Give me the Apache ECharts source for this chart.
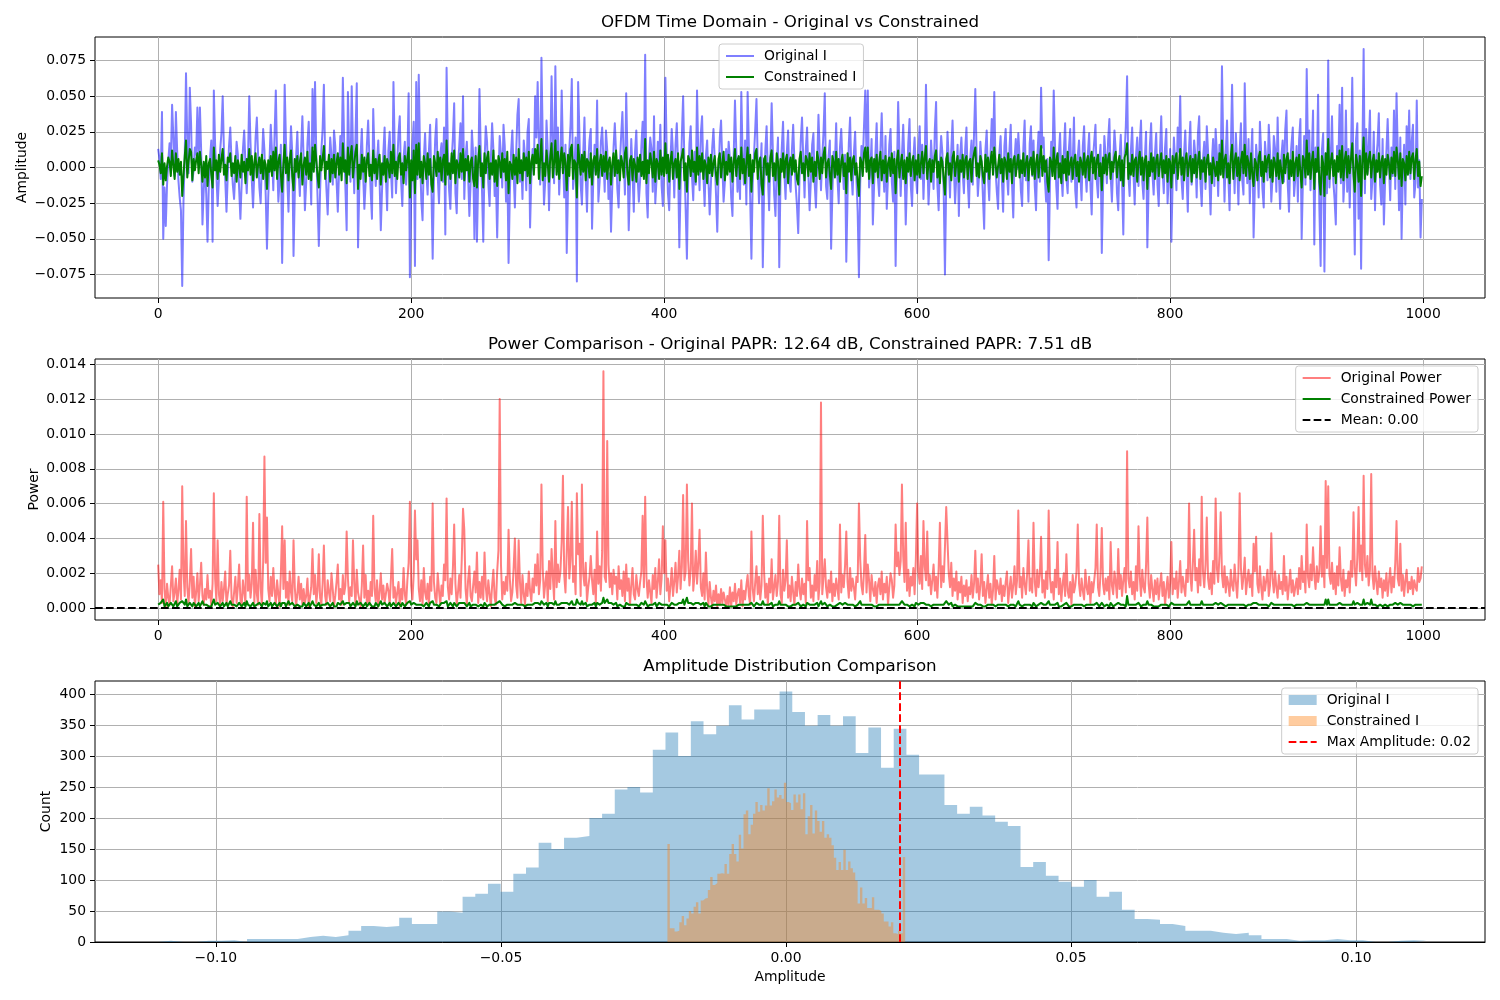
<!DOCTYPE html>
<html>
<head>
<meta charset="utf-8">
<title>OFDM PAPR reduction</title>
<script src="https://cdn.jsdelivr.net/npm/echarts@6/dist/echarts.min.js"></script>
<style>
  html, body { margin: 0; padding: 0; background: #fff; }
  #chart { width: 1500px; height: 1000px; }
</style>
</head>
<body>
<div id="chart"></div>
<script>
// tick labels
const timeTicks = [0, 200, 400, 600, 800, 1000]
const ampTicks = [-0.075, -0.05, -0.025, 0, 0.025, 0.05, 0.075]
const powerTicks = [0, 0.002, 0.004, 0.006, 0.008, 0.010, 0.012, 0.014]
const histTicks = [-0.1, -0.05, 0, 0.05, 0.1]
const countTicks = [0, 50, 100, 150, 200, 250, 300, 350, 400]

// time domain, I branch (1000 samples)
const originalI = [
  .013,.006,-.008,.039,-.050,-.014,-.041,-.012,.005,.017,.004,.044,.021,-.006,.039,.012,-.009,-.021,-.030,-.083,-.024,.008,.066,.018,-.004,.056,.031,-.010,-.002,.014,.009,.042,.003,.042,.011,-.040,-.016,.002,-.019,-.052,-.013,.007,.019,-.052,.054,.016,-.005,-.027,-.008,.012,
  .024,.050,.011,-.008,-.031,-.006,.015,.028,.004,-.012,-.022,-.003,.018,.009,-.015,-.036,-.011,.013,.026,.002,-.018,.006,.050,.017,-.009,-.028,-.004,.021,.035,.008,-.014,-.025,.003,.027,.012,-.019,-.057,-.021,.005,.030,.011,-.016,.022,.054,.007,-.024,-.009,.016,-.067,-.013,
  .058,.019,-.006,-.031,.004,.029,.010,-.062,-.018,.007,.025,-.002,-.020,.013,.036,.005,-.030,-.011,.017,.032,.003,-.026,.055,.014,.060,.009,-.021,-.055,-.017,.012,.027,.058,.006,-.015,-.033,-.004,.021,.008,-.012,.026,.015,-.009,-.031,-.002,.022,.004,.063,.018,-.014,-.044,
  .053,.011,-.010,.057,.013,-.018,.022,.059,-.056,-.014,.008,.027,-.004,-.029,-.011,.016,.033,.006,-.017,-.036,.041,.009,-.013,.004,.019,-.008,-.044,-.015,.010,.028,-.005,-.030,.012,.025,-.002,-.021,.060,.014,-.018,.003,.024,.036,-.009,-.027,.007,.018,-.012,.006,.052,-.077,
  -.020,.015,.032,-.069,.060,-.008,.065,.012,-.023,-.037,.006,.024,-.003,-.019,.011,.030,-.014,-.064,-.009,.020,.034,-.006,-.025,.009,.017,-.010,.028,-.047,.070,.013,-.016,-.029,.005,.021,.045,-.018,-.032,.002,.015,.031,-.008,.050,-.022,.007,.018,-.005,-.034,-.011,.026,.009,
  -.050,.014,-.052,-.007,.055,.012,-.016,-.052,.004,.029,.018,-.011,-.027,.006,.031,.013,-.020,-.008,-.049,-.006,.022,.009,-.014,.030,.015,-.024,.003,-.067,-.019,.011,.026,-.004,-.028,.010,.037,.048,-.010,.004,-.022,.019,.008,-.016,.025,.034,-.042,-.007,.013,-.002,.050,.021,
  .060,.017,-.012,.077,.020,-.026,-.009,.033,.011,-.030,.008,.064,.015,-.011,.071,.006,.028,-.019,.002,.054,.010,-.021,.016,-.060,-.014,.012,.030,.062,-.015,-.004,.021,-.080,.060,.059,-.012,-.026,.009,.035,-.006,-.031,.004,.019,.027,-.043,-.008,.016,-.003,.047,-.024,-.010,
  .018,.028,.006,-.017,.026,.012,-.022,-.004,-.045,-.013,.014,.031,.010,-.015,-.028,.003,.022,.039,.007,-.019,.052,.008,-.044,-.012,.020,-.003,-.031,.011,.026,-.006,-.024,-.009,.015,.032,-.001,.079,-.018,-.035,.006,.021,.013,-.017,.036,-.025,-.008,.018,.004,.030,-.013,-.027,
  .008,.063,.012,-.018,-.030,.005,.027,.010,-.021,.016,.031,.002,-.056,-.014,.022,.050,.004,-.029,-.064,-.010,.017,.029,-.006,-.023,.011,-.012,.054,.009,-.016,.024,.036,-.004,-.027,.008,.019,-.009,-.033,-.011,.014,.027,.005,-.019,-.045,-.006,.021,.033,.002,-.024,-.010,.013,
  -.003,.018,.006,-.021,-.034,.009,.047,.013,-.017,.004,-.022,.053,.010,-.012,.019,-.026,.053,.015,-.020,-.064,-.011,.008,.027,.048,.003,-.025,-.006,.017,-.070,-.016,.012,.029,-.005,-.030,.007,.045,.010,-.019,-.034,.002,.021,-.070,-.008,.014,.032,-.003,-.022,.011,.026,-.009,
  -.017,.012,.030,.004,-.013,-.027,-.046,-.008,.019,.035,.006,-.021,.013,.028,-.004,-.030,-.009,.016,.024,-.011,-.028,.003,.037,.010,-.016,.007,.025,.052,-.013,-.022,.008,.019,-.057,-.018,.011,.002,.031,-.007,-.025,.014,.027,.004,-.015,.009,-.066,-.020,.017,.035,-.003,-.019,
  .010,.025,-.008,-.031,-.077,-.011,.015,.002,.029,.054,.006,.054,-.014,-.003,.020,-.040,-.012,.009,.031,-.007,-.020,.013,.038,.004,-.017,.022,-.029,-.006,.016,.027,-.010,-.024,.011,-.069,-.005,.046,.012,-.020,.008,.030,.002,-.040,-.009,.017,.034,-.013,-.027,.006,.021,-.004,
  -.018,.011,.029,-.008,.016,-.022,.005,.058,.009,-.026,-.007,.019,.003,-.015,.027,.046,-.012,-.030,.004,.022,.010,-.017,-.075,-.010,.025,.006,-.021,.012,.033,.001,-.025,-.006,.016,-.034,.008,.021,-.003,-.018,.013,.028,-.009,-.028,.007,.019,-.012,.024,.055,.011,-.020,-.005,
  .018,.004,-.020,-.043,.012,.026,-.006,-.023,.009,.034,.011,.053,-.002,-.017,-.029,.010,.022,-.008,-.031,.015,.027,-.004,-.019,.013,.030,-.011,-.035,.006,.020,-.001,.024,.008,-.016,-.027,.014,.033,-.009,.004,-.024,.017,.029,-.006,.019,-.013,-.030,.007,.025,-.010,.056,.014,
  .021,-.008,-.024,.006,-.065,-.012,.018,.003,.054,.016,-.013,-.029,.009,.024,-.004,-.020,.011,.031,-.007,-.018,.013,.027,-.010,.002,.035,-.016,-.028,.008,.019,-.005,-.023,.015,.029,-.002,-.017,.010,.024,-.012,-.033,.006,.018,.030,-.009,-.021,.004,.016,-.060,-.014,.022,.008,
  -.011,.019,.034,-.006,-.024,.003,.026,.012,-.018,-.030,.007,.023,-.009,-.047,.010,.029,.064,-.005,-.020,.012,.028,-.003,-.026,.008,.021,-.013,.017,.033,-.010,-.022,.006,.025,-.056,-.014,.015,.031,-.004,-.019,.009,.024,-.012,-.027,.011,.036,-.001,-.018,.014,.027,-.025,-.006,
  .013,-.052,-.010,.021,.004,-.016,.028,.011,.050,-.008,-.022,.009,.026,-.005,-.031,.014,.032,-.012,-.002,.019,.008,-.021,.024,.036,-.011,-.027,.006,.018,-.015,.029,.011,-.007,-.033,.004,.020,-.013,.027,.009,-.020,.016,-.004,.071,.015,-.024,.010,.033,-.006,-.030,.012,.058,
  .009,-.018,.024,.003,-.026,.012,.031,-.008,-.019,.059,.014,-.011,.020,-.025,.007,.027,-.049,-.013,.016,.004,-.021,.032,.010,-.015,-.028,.018,.006,-.009,.030,.011,-.024,-.006,.022,.013,-.017,.035,-.004,-.029,.008,.019,-.010,.026,.040,-.012,-.031,.005,.017,.028,-.020,-.007,
  .015,-.024,.020,.034,-.050,-.009,.022,-.012,.069,.010,.026,-.016,.008,.040,-.054,.014,-.003,.051,-.028,-.069,.012,.024,-.073,.010,-.018,.075,-.014,.006,.036,-.009,-.022,-.040,.015,.003,.044,-.011,.056,-.024,-.005,.040,-.017,.013,-.028,.009,.063,-.006,-.061,.020,.031,-.036,
  .012,-.071,.008,.083,-.018,.027,-.004,.015,.040,-.022,-.008,.025,-.030,.006,.017,.038,-.012,-.026,.020,-.040,-.009,.011,.034,.003,-.023,.014,-.006,.040,-.015,.052,.010,-.030,.021,-.050,-.004,.016,-.026,.029,.003,.040,-.008,.018,.030,-.021,-.011,.047,-.014,.005,-.049,-.022
]
const constrainedI = [
  .005,.002,-.004,.010,-.012,.003,-.009,.001,.007,.004,-.006,.012,.002,-.008,.010,-.003,.006,-.005,.004,-.020,-.006,.008,.019,-.007,.004,.013,.011,-.009,.006,-.002,.005,.010,-.004,.011,.002,-.010,.004,-.007,.008,-.013,.003,.006,-.005,-.014,.014,-.002,.005,-.008,.009,-.003,
  .006,.013,-.005,.002,-.009,.007,.004,.010,-.006,.003,-.004,.008,-.010,.005,.001,-.007,.009,-.003,.004,-.011,.006,-.002,.013,-.005,.008,-.009,.003,.010,-.007,.002,.007,-.004,.009,-.008,.005,.002,-.015,.005,-.003,.008,-.006,.011,-.002,.014,-.008,.004,.009,-.005,-.017,.003,
  .016,-.004,.007,-.009,.005,.012,-.006,-.016,.006,-.003,.008,-.007,.004,.010,-.012,.002,.007,-.005,.011,-.008,.003,-.009,.014,-.003,.016,.005,-.006,-.014,.008,-.002,.006,.015,-.008,.004,-.001,.009,-.010,.006,-.004,.009,-.007,.003,.010,-.005,.007,-.009,.017,-.003,.005,-.011,
  .014,-.005,.008,.015,-.007,.003,.011,.016,-.015,.002,-.008,.009,-.003,.007,-.010,.005,.010,-.006,.002,-.009,.012,-.004,.006,-.008,.004,.009,-.012,.003,-.005,.008,-.010,.006,.002,-.007,.011,-.004,.016,-.006,.004,-.008,.007,.010,-.005,.003,-.011,.008,-.002,.006,.014,-.021,
  .005,-.009,.012,-.018,.016,-.005,.017,-.007,.004,-.011,.008,.003,-.008,.010,-.005,.006,-.012,-.017,.008,.003,-.006,.011,-.003,.007,-.009,.005,.009,-.012,.019,-.005,.003,-.008,.010,-.004,.012,-.011,.005,.002,-.007,.010,-.003,.013,-.009,.006,-.002,.008,-.010,.004,.007,-.008,
  -.013,.008,-.014,.005,.015,-.006,.003,-.014,.010,-.004,.007,.011,-.008,.003,-.005,.012,-.010,.005,-.013,.008,.004,-.007,.010,-.003,.006,-.009,.011,-.018,.004,.002,-.008,.009,-.005,.007,-.011,.013,-.004,.005,-.009,.010,-.002,.007,-.006,.011,-.011,.004,.009,-.005,.013,.003,
  .016,-.008,.006,.020,-.009,.003,-.006,.012,.002,-.010,.008,.017,-.007,.003,.019,-.005,.011,-.008,.006,.014,-.004,.010,.003,-.016,.009,-.006,.013,.016,-.008,.005,.003,-.021,.016,.016,-.005,.009,-.003,.011,-.009,.006,.004,-.007,.010,-.012,.005,.008,-.005,.013,-.007,.003,
  .009,-.006,.008,-.003,.011,-.008,.004,.007,-.012,.003,.010,-.006,.012,-.004,.005,-.009,.008,.003,-.007,.010,.014,-.005,-.012,.005,.008,-.009,.006,.002,-.010,.007,-.003,.009,-.006,.004,-.008,.020,-.011,.005,-.004,.010,.003,-.007,.011,-.010,.006,.003,-.008,.012,-.005,.007,
  -.006,.017,-.004,.009,-.010,.005,.011,-.008,.003,.006,-.007,.010,-.015,.004,.008,.013,-.009,.003,-.017,.008,.005,-.006,.012,-.003,.004,-.010,.014,-.005,.008,-.003,.010,-.008,.005,.002,-.011,.007,-.004,.009,-.006,.003,.008,-.005,-.012,.006,.010,-.007,.003,.011,-.009,.004,
  -.005,.009,-.003,.007,-.010,.004,.013,-.006,.005,.008,-.008,.014,-.004,.006,-.011,.003,.014,-.006,.009,-.017,.005,-.003,.010,.013,-.008,.004,.007,-.012,-.019,.006,.008,-.005,.003,-.010,.007,.012,-.006,.003,-.009,.010,.004,-.019,.006,-.003,.010,-.007,.005,.009,-.011,.003,
  .007,-.005,.009,-.003,.005,-.008,-.012,.006,.011,-.004,.003,-.009,.008,.005,-.006,.010,-.003,.007,-.010,.004,-.006,.011,.005,-.008,.007,-.004,.009,.014,-.007,.003,.006,-.005,-.015,.008,.004,-.007,.011,-.005,.006,-.010,.004,.009,-.006,.003,-.018,.010,-.003,.007,-.009,.005,
  .008,-.005,.003,-.010,-.020,.007,.004,-.006,.010,.014,-.003,.014,-.008,.005,.007,-.011,.006,-.003,.009,-.007,.004,.011,-.009,.005,-.004,.008,-.010,.003,.007,-.006,.010,-.004,.006,-.018,.005,.012,-.007,.003,.009,-.008,.005,-.011,.007,-.003,.010,-.006,.004,.008,-.009,.005,
  -.005,.009,-.007,.003,.011,-.004,.007,.015,-.008,.003,.006,-.010,.005,-.003,.008,.012,-.007,.004,-.011,.007,.004,-.008,-.019,.006,.010,-.005,.003,-.009,.007,.011,-.006,.003,.008,-.010,.005,-.003,.009,-.007,.005,.008,-.008,.004,.006,-.010,.005,.010,.014,-.006,.003,-.007,
  .008,.004,-.006,-.011,.009,-.003,.007,-.008,.005,.011,-.005,.014,.003,-.007,-.008,.009,-.004,.006,-.010,.007,.004,-.008,.010,-.003,.006,-.011,.005,.008,-.006,.003,.009,-.007,.005,-.004,.010,-.006,.003,.008,-.009,.004,.007,-.005,.011,-.008,.003,.009,-.007,.005,.015,-.006,
  .008,-.003,.005,-.010,-.017,.007,.004,-.006,.014,-.008,.005,.010,-.007,.003,-.011,.008,-.004,.006,-.009,.011,-.005,.003,.007,-.008,.005,.009,-.006,.004,-.010,.007,.003,-.005,.010,-.007,.004,.008,-.009,.006,.011,-.004,.007,-.008,.005,.009,-.006,.003,-.016,.007,-.004,.009,
  -.005,.006,.010,-.008,.004,-.003,.007,.011,-.007,.004,.008,-.009,.005,-.013,.007,.010,.017,-.008,.003,-.005,.009,-.006,.005,.007,-.010,.004,.011,-.005,.007,-.009,.005,.008,-.015,.004,-.006,.010,-.003,.007,-.008,.005,.009,-.006,.003,.010,-.007,.005,-.004,.008,-.010,.006,
  .004,-.014,.008,-.004,.006,.010,-.008,.003,.013,-.005,.007,-.009,.005,.010,-.006,.003,.008,-.010,.006,-.004,.009,-.007,.004,.011,-.008,.005,-.003,.007,-.010,.005,.009,-.005,.003,-.011,.007,.008,-.006,.004,-.009,.010,-.005,.019,-.007,.005,.009,-.007,.003,-.011,.008,.016,
  -.008,.004,.010,-.006,.007,-.009,.005,.011,-.004,.016,-.006,.008,.003,-.008,.010,-.005,-.013,.006,.003,-.009,.007,.011,-.006,.004,-.010,.008,-.003,.006,.009,-.007,.005,-.010,.007,.003,-.006,.010,-.008,.005,.004,-.011,.009,-.004,.006,.010,-.008,.005,-.006,.011,-.009,.003,
  .007,-.006,.009,-.003,-.014,.008,.005,-.007,.019,-.005,.010,-.008,.004,.011,-.015,.006,-.003,.014,-.010,-.019,.008,.003,-.020,.010,-.005,.020,-.008,.004,.010,-.006,.005,-.011,.008,-.003,.012,-.007,.015,-.009,.005,.011,-.007,.008,-.004,.006,.017,-.005,-.017,.009,.003,-.010,
  .008,-.020,.005,.021,-.008,.010,-.005,.006,.011,-.007,.004,.009,-.010,.005,-.003,.010,-.007,.004,.008,-.011,.006,-.005,.009,.003,-.008,.007,-.004,.011,-.006,.014,.005,-.008,.010,-.013,.006,.003,-.009,.008,-.005,.011,-.004,.007,.010,-.008,.005,.013,-.006,.004,-.013,-.006
]

// instantaneous power (1000 samples)
const originalPower = [
  .0025,.0008,.0016,.0003,.0061,.0011,.0001,.0014,.0006,.0002,.0013,.0024,.0004,.0009,.0017,.0002,.0010,.0022,.0005,.0070,.0021,.0007,.0050,.0012,.0003,.0015,.0034,.0006,.0018,.0001,.0009,.0020,.0004,.0013,.0026,.0007,.0002,.0011,.0005,.0019,.0006,.0010,.0001,.0014,.0066,.0017,.0004,.0039,.0008,.0002,
  .0015,.0004,.0011,.0021,.0002,.0008,.0013,.0033,.0006,.0001,.0009,.0018,.0003,.0012,.0025,.0005,.0001,.0016,.0009,.0003,.0064,.0010,.0019,.0006,.0014,.0049,.0003,.0022,.0008,.0002,.0054,.0012,.0001,.0027,.0087,.0026,.0052,.0011,.0004,.0018,.0007,.0023,.0010,.0002,.0016,.0008,.0001,.0020,.0047,.0011,
  .0039,.0006,.0015,.0002,.0021,.0009,.0004,.0039,.0012,.0001,.0008,.0018,.0005,.0014,.0002,.0011,.0003,.0007,.0017,.0001,.0006,.0012,.0034,.0008,.0019,.0003,.0010,.0031,.0006,.0002,.0014,.0036,.0007,.0002,.0016,.0009,.0004,.0020,.0011,.0001,.0007,.0015,.0025,.0005,.0011,.0002,.0019,.0008,.0013,.0044,
  .0017,.0004,.0012,.0007,.0039,.0014,.0002,.0022,.0009,.0005,.0001,.0013,.0036,.0006,.0019,.0003,.0010,.0002,.0015,.0007,.0053,.0011,.0004,.0016,.0001,.0009,.0020,.0005,.0013,.0003,.0008,.0014,.0010,.0002,.0017,.0034,.0006,.0012,.0003,.0009,.0015,.0001,.0011,.0005,.0023,.0008,.0002,.0016,.0026,.0061,
  .0013,.0005,.0019,.0056,.0028,.0039,.0011,.0004,.0016,.0002,.0023,.0009,.0005,.0014,.0001,.0018,.0010,.0060,.0015,.0006,.0003,.0020,.0010,.0002,.0013,.0007,.0025,.0016,.0063,.0012,.0005,.0017,.0008,.0023,.0048,.0014,.0002,.0009,.0019,.0006,.0028,.0057,.0045,.0011,.0002,.0016,.0024,.0007,.0004,.0013,
  .0021,.0009,.0032,.0003,.0015,.0006,.0018,.0005,.0032,.0012,.0004,.0016,.0008,.0001,.0013,.0022,.0006,.0002,.0021,.0033,.0120,.0025,.0005,.0015,.0008,.0018,.0010,.0045,.0017,.0004,.0009,.0023,.0040,.0013,.0006,.0039,.0015,.0003,.0019,.0008,.0002,.0014,.0007,.0021,.0010,.0004,.0017,.0009,.0025,.0013,
  .0031,.0008,.0016,.0071,.0023,.0006,.0014,.0021,.0004,.0027,.0011,.0034,.0018,.0005,.0050,.0012,.0025,.0015,.0021,.0038,.0076,.0019,.0009,.0033,.0058,.0017,.0028,.0061,.0015,.0024,.0008,.0066,.0031,.0037,.0007,.0071,.0020,.0013,.0026,.0004,.0012,.0018,.0030,.0016,.0008,.0022,.0003,.0044,.0014,.0024,
  .0010,.0033,.0136,.0018,.0015,.0096,.0025,.0012,.0020,.0008,.0022,.0014,.0018,.0005,.0024,.0011,.0016,.0007,.0021,.0004,.0025,.0010,.0017,.0002,.0013,.0023,.0008,.0005,.0019,.0011,.0007,.0015,.0021,.0053,.0012,.0064,.0018,.0006,.0016,.0009,.0003,.0019,.0011,.0023,.0006,.0015,.0028,.0008,.0017,.0047,
  .0020,.0039,.0010,.0017,.0004,.0013,.0023,.0007,.0015,.0026,.0009,.0018,.0033,.0011,.0024,.0065,.0016,.0021,.0071,.0027,.0013,.0022,.0060,.0010,.0019,.0033,.0014,.0026,.0045,.0012,.0007,.0020,.0005,.0032,.0011,.0002,.0015,.0006,.0001,.0010,.0004,.0013,.0001,.0008,.0002,.0011,.0003,.0009,.0005,.0001,
  .0007,.0002,.0012,.0001,.0009,.0004,.0014,.0002,.0008,.0011,.0003,.0016,.0001,.0010,.0005,.0013,.0019,.0007,.0002,.0044,.0011,.0004,.0015,.0024,.0008,.0018,.0005,.0013,.0053,.0021,.0006,.0014,.0002,.0017,.0009,.0028,.0005,.0012,.0019,.0007,.0015,.0053,.0008,.0003,.0022,.0010,.0016,.0039,.0006,.0013,
  .0004,.0018,.0009,.0002,.0015,.0007,.0025,.0011,.0005,.0017,.0008,.0014,.0003,.0050,.0016,.0023,.0006,.0013,.0004,.0019,.0010,.0027,.0005,.0015,.0118,.0008,.0018,.0028,.0012,.0006,.0016,.0009,.0021,.0004,.0014,.0007,.0017,.0011,.0005,.0048,.0009,.0019,.0012,.0024,.0044,.0015,.0006,.0023,.0010,.0017,
  .0012,.0005,.0018,.0015,.0060,.0028,.0013,.0008,.0021,.0042,.0009,.0025,.0016,.0004,.0019,.0011,.0007,.0015,.0003,.0013,.0017,.0008,.0021,.0005,.0014,.0009,.0018,.0002,.0012,.0020,.0016,.0006,.0013,.0048,.0024,.0032,.0019,.0027,.0071,.0030,.0015,.0049,.0010,.0022,.0007,.0018,.0013,.0023,.0008,.0028,
  .0060,.0021,.0014,.0030,.0011,.0050,.0024,.0016,.0044,.0013,.0019,.0008,.0016,.0025,.0010,.0018,.0006,.0022,.0049,.0012,.0024,.0015,.0035,.0058,.0058,.0020,.0012,.0026,.0007,.0017,.0010,.0021,.0005,.0015,.0009,.0018,.0003,.0013,.0007,.0016,.0004,.0012,.0008,.0019,.0006,.0014,.0033,.0009,.0017,.0005,
  .0013,.0031,.0007,.0015,.0003,.0011,.0019,.0006,.0014,.0002,.0010,.0030,.0005,.0016,.0012,.0008,.0017,.0004,.0013,.0007,.0015,.0021,.0003,.0011,.0018,.0006,.0013,.0024,.0008,.0016,.0056,.0012,.0018,.0006,.0023,.0014,.0008,.0020,.0039,.0010,.0017,.0009,.0049,.0015,.0007,.0022,.0012,.0019,.0041,.0009,
  .0016,.0006,.0021,.0011,.0056,.0018,.0009,.0015,.0005,.0022,.0012,.0038,.0008,.0017,.0004,.0014,.0020,.0007,.0031,.0010,.0006,.0015,.0002,.0019,.0009,.0013,.0021,.0048,.0014,.0007,.0017,.0010,.0005,.0022,.0012,.0008,.0018,.0003,.0015,.0009,.0016,.0023,.0048,.0012,.0007,.0020,.0046,.0014,.0008,.0017,
  .0010,.0018,.0005,.0038,.0013,.0008,.0021,.0015,.0006,.0034,.0011,.0019,.0007,.0016,.0023,.0009,.0090,.0017,.0012,.0021,.0008,.0015,.0005,.0024,.0010,.0047,.0018,.0007,.0022,.0012,.0009,.0025,.0052,.0014,.0006,.0019,.0011,.0004,.0016,.0008,.0017,.0005,.0013,.0020,.0007,.0015,.0002,.0011,.0018,.0006,
  .0014,.0038,.0008,.0017,.0011,.0021,.0006,.0015,.0027,.0009,.0018,.0012,.0007,.0022,.0015,.0060,.0019,.0010,.0026,.0045,.0016,.0023,.0009,.0028,.0013,.0064,.0021,.0012,.0025,.0052,.0017,.0011,.0020,.0008,.0027,.0014,.0063,.0023,.0015,.0030,.0055,.0019,.0012,.0024,.0009,.0018,.0014,.0007,.0022,.0013,
  .0010,.0025,.0015,.0006,.0020,.0066,.0023,.0011,.0018,.0029,.0008,.0016,.0022,.0012,.0019,.0007,.0037,.0021,.0041,.0014,.0009,.0024,.0012,.0005,.0018,.0010,.0016,.0022,.0007,.0013,.0043,.0017,.0009,.0021,.0012,.0006,.0019,.0011,.0015,.0008,.0030,.0010,.0018,.0005,.0013,.0022,.0009,.0016,.0007,.0012,
  .0017,.0008,.0023,.0011,.0030,.0015,.0021,.0009,.0048,.0018,.0012,.0025,.0016,.0035,.0019,.0011,.0024,.0015,.0021,.0047,.0018,.0030,.0012,.0073,.0023,.0070,.0019,.0014,.0026,.0011,.0020,.0008,.0024,.0013,.0035,.0017,.0010,.0022,.0007,.0016,.0012,.0021,.0009,.0027,.0018,.0055,.0023,.0013,.0029,.0058,
  .0021,.0036,.0016,.0076,.0025,.0018,.0030,.0013,.0022,.0077,.0019,.0011,.0024,.0015,.0008,.0021,.0012,.0017,.0006,.0016,.0010,.0020,.0007,.0015,.0023,.0009,.0018,.0012,.0026,.0050,.0017,.0013,.0037,.0010,.0019,.0007,.0016,.0022,.0009,.0015,.0011,.0018,.0008,.0016,.0012,.0010,.0023,.0015,.0017,.0024
]
const constrainedPower = [
  .0002,.0001,.0003,.0002,.0005,.0001,.0002,.0003,.0001,.0002,.0003,.0002,.0001,.0002,.0004,.0001,.0002,.0003,.0002,.0004,.0003,.0002,.0005,.0001,.0002,.0003,.0002,.0001,.0003,.0002,.0001,.0002,.0003,.0001,.0002,.0004,.0002,.0001,.0002,.0003,.0001,.0002,.0001,.0003,.0005,.0002,.0001,.0003,.0002,.0001,
  .0002,.0003,.0001,.0002,.0003,.0001,.0002,.0004,.0002,.0001,.0002,.0003,.0001,.0002,.0003,.0002,.0001,.0002,.0003,.0001,.0004,.0002,.0003,.0001,.0002,.0003,.0001,.0002,.0002,.0001,.0003,.0002,.0001,.0003,.0004,.0002,.0004,.0001,.0002,.0003,.0001,.0002,.0003,.0002,.0001,.0002,.0003,.0001,.0003,.0002,
  .0003,.0001,.0002,.0004,.0002,.0001,.0003,.0002,.0001,.0002,.0002,.0003,.0001,.0002,.0001,.0003,.0002,.0001,.0002,.0003,.0001,.0002,.0004,.0002,.0003,.0001,.0002,.0003,.0001,.0002,.0002,.0003,.0002,.0001,.0003,.0002,.0001,.0002,.0003,.0001,.0002,.0001,.0003,.0002,.0002,.0001,.0004,.0002,.0001,.0003,
  .0002,.0003,.0001,.0002,.0003,.0002,.0001,.0004,.0002,.0001,.0003,.0002,.0001,.0002,.0003,.0001,.0002,.0003,.0002,.0001,.0002,.0001,.0003,.0002,.0001,.0002,.0004,.0002,.0001,.0003,.0002,.0001,.0002,.0003,.0001,.0002,.0003,.0002,.0001,.0002,.0003,.0002,.0001,.0003,.0002,.0001,.0002,.0003,.0002,.0004,
  .0002,.0001,.0003,.0004,.0002,.0003,.0002,.0001,.0002,.0003,.0001,.0002,.0003,.0002,.0001,.0003,.0002,.0004,.0002,.0001,.0002,.0003,.0001,.0002,.0003,.0002,.0003,.0002,.0004,.0001,.0002,.0003,.0002,.0001,.0003,.0002,.0001,.0002,.0003,.0002,.0003,.0004,.0003,.0002,.0001,.0002,.0003,.0001,.0002,.0002,
  .0003,.0002,.0003,.0001,.0002,.0002,.0003,.0001,.0003,.0002,.0001,.0002,.0002,.0001,.0002,.0003,.0002,.0001,.0003,.0003,.0004,.0003,.0002,.0002,.0001,.0002,.0002,.0003,.0002,.0001,.0002,.0003,.0003,.0002,.0002,.0003,.0002,.0001,.0002,.0002,.0001,.0002,.0002,.0003,.0002,.0001,.0002,.0002,.0003,.0002,
  .0003,.0002,.0002,.0004,.0003,.0002,.0002,.0003,.0001,.0003,.0002,.0003,.0002,.0002,.0004,.0002,.0003,.0002,.0002,.0003,.0004,.0003,.0002,.0003,.0004,.0002,.0003,.0004,.0002,.0003,.0002,.0005,.0003,.0003,.0002,.0004,.0002,.0002,.0003,.0001,.0002,.0002,.0003,.0002,.0002,.0003,.0001,.0003,.0002,.0002,
  .0002,.0003,.0006,.0003,.0002,.0005,.0003,.0002,.0003,.0002,.0002,.0002,.0003,.0001,.0002,.0002,.0002,.0001,.0002,.0001,.0003,.0002,.0002,.0001,.0002,.0003,.0002,.0001,.0002,.0002,.0001,.0002,.0003,.0004,.0002,.0004,.0003,.0001,.0002,.0002,.0001,.0002,.0002,.0003,.0001,.0002,.0003,.0002,.0002,.0003,
  .0002,.0003,.0002,.0002,.0001,.0002,.0003,.0002,.0002,.0003,.0002,.0002,.0003,.0002,.0003,.0005,.0002,.0003,.0006,.0003,.0002,.0003,.0004,.0002,.0002,.0003,.0002,.0003,.0004,.0002,.0002,.0003,.0001,.0003,.0002,.0001,.0002,.0001,.0001,.0002,.0001,.0002,.0001,.0002,.0001,.0002,.0001,.0002,.0001,.0001,
  .0002,.0001,.0002,.0001,.0002,.0001,.0002,.0001,.0002,.0002,.0001,.0002,.0001,.0002,.0001,.0002,.0003,.0002,.0001,.0003,.0002,.0001,.0002,.0003,.0002,.0002,.0001,.0002,.0004,.0002,.0001,.0002,.0001,.0002,.0002,.0003,.0001,.0002,.0002,.0001,.0002,.0004,.0002,.0001,.0002,.0002,.0002,.0003,.0001,.0002,
  .0001,.0002,.0002,.0001,.0002,.0002,.0003,.0002,.0001,.0002,.0002,.0002,.0001,.0003,.0002,.0002,.0001,.0002,.0001,.0002,.0002,.0003,.0001,.0002,.0004,.0002,.0002,.0003,.0002,.0001,.0002,.0002,.0002,.0001,.0002,.0001,.0002,.0002,.0001,.0003,.0002,.0002,.0002,.0003,.0003,.0002,.0001,.0002,.0002,.0002,
  .0002,.0001,.0002,.0002,.0003,.0004,.0002,.0001,.0002,.0003,.0002,.0003,.0002,.0001,.0002,.0002,.0001,.0002,.0001,.0002,.0002,.0001,.0002,.0001,.0002,.0002,.0002,.0001,.0002,.0002,.0002,.0001,.0002,.0003,.0002,.0003,.0002,.0003,.0004,.0003,.0002,.0003,.0002,.0002,.0001,.0002,.0002,.0002,.0001,.0003,
  .0004,.0002,.0002,.0003,.0002,.0003,.0002,.0002,.0003,.0002,.0002,.0001,.0002,.0002,.0002,.0002,.0001,.0002,.0003,.0002,.0002,.0002,.0003,.0004,.0004,.0002,.0002,.0003,.0001,.0002,.0002,.0002,.0001,.0002,.0001,.0002,.0001,.0002,.0001,.0002,.0001,.0002,.0001,.0002,.0001,.0002,.0003,.0002,.0002,.0001,
  .0002,.0003,.0001,.0002,.0001,.0002,.0002,.0001,.0002,.0001,.0002,.0003,.0001,.0002,.0002,.0001,.0002,.0001,.0002,.0001,.0002,.0002,.0001,.0002,.0002,.0001,.0002,.0002,.0001,.0002,.0004,.0002,.0002,.0001,.0002,.0002,.0001,.0002,.0003,.0002,.0002,.0001,.0003,.0002,.0001,.0002,.0002,.0002,.0003,.0002,
  .0002,.0001,.0002,.0002,.0004,.0002,.0002,.0002,.0001,.0002,.0002,.0003,.0001,.0002,.0001,.0002,.0002,.0001,.0003,.0002,.0001,.0002,.0001,.0002,.0002,.0002,.0002,.0003,.0002,.0001,.0002,.0002,.0001,.0002,.0002,.0001,.0002,.0001,.0002,.0001,.0002,.0002,.0003,.0002,.0001,.0002,.0003,.0002,.0001,.0002,
  .0002,.0002,.0001,.0003,.0002,.0001,.0002,.0002,.0001,.0003,.0002,.0002,.0001,.0002,.0002,.0001,.0007,.0002,.0002,.0002,.0001,.0002,.0001,.0002,.0002,.0003,.0002,.0001,.0002,.0002,.0001,.0002,.0004,.0002,.0001,.0002,.0002,.0001,.0002,.0001,.0002,.0001,.0002,.0002,.0001,.0002,.0001,.0002,.0002,.0001,
  .0002,.0003,.0002,.0002,.0002,.0002,.0001,.0002,.0002,.0002,.0002,.0002,.0001,.0002,.0002,.0004,.0002,.0002,.0002,.0003,.0002,.0002,.0002,.0002,.0002,.0004,.0002,.0002,.0002,.0003,.0002,.0002,.0002,.0001,.0002,.0002,.0003,.0002,.0002,.0002,.0003,.0002,.0002,.0002,.0001,.0002,.0002,.0001,.0002,.0002,
  .0002,.0002,.0002,.0001,.0002,.0003,.0002,.0002,.0002,.0002,.0001,.0002,.0002,.0002,.0002,.0001,.0003,.0002,.0003,.0002,.0002,.0002,.0002,.0001,.0002,.0002,.0002,.0002,.0001,.0002,.0003,.0002,.0002,.0001,.0002,.0002,.0002,.0002,.0002,.0001,.0002,.0001,.0002,.0001,.0002,.0002,.0002,.0002,.0001,.0002,
  .0002,.0001,.0002,.0002,.0002,.0002,.0002,.0002,.0003,.0002,.0002,.0002,.0002,.0003,.0002,.0002,.0002,.0002,.0002,.0003,.0002,.0002,.0002,.0005,.0002,.0005,.0002,.0002,.0002,.0002,.0002,.0002,.0002,.0002,.0003,.0002,.0002,.0002,.0002,.0002,.0002,.0002,.0002,.0002,.0002,.0004,.0002,.0002,.0003,.0004,
  .0002,.0003,.0002,.0005,.0002,.0002,.0003,.0002,.0002,.0005,.0002,.0002,.0002,.0002,.0001,.0002,.0002,.0002,.0001,.0002,.0002,.0002,.0001,.0002,.0002,.0002,.0002,.0002,.0003,.0004,.0002,.0002,.0003,.0002,.0002,.0001,.0002,.0002,.0002,.0002,.0002,.0002,.0001,.0002,.0002,.0002,.0002,.0002,.0002,.0002
]
const meanPower = 0.0002
const originalPAPR = 12.64
const constrainedPAPR = 7.51
const maxAmplitude = 0.0209

// amplitude histograms (100 equal bins each)
const origHistRange = [-0.1101, 0.1123]
const origHistCounts = [
  2, 0, 0, 2, 2, 3, 0, 5, 5, 5, 5, 8, 10, 8, 11, 18, 26, 24, 26, 39,
  29, 29, 49, 47, 73, 78, 94, 81, 110, 120, 160, 150, 168, 171, 200, 207, 246, 250, 241, 310,
  338, 300, 356, 335, 349, 382, 359, 375, 375, 404, 371, 349, 366, 349, 364, 305, 346, 281, 344, 302,
  270, 270, 221, 207, 218, 204, 194, 187, 121, 129, 107, 97, 89, 100, 73, 81, 52, 37, 36, 29,
  26, 18, 18, 15, 13, 15, 11, 5, 5, 2, 3, 3, 5, 3, 3, 0, 0, 2, 3, 2
]
const consHistRange = [-0.0208, 0.0209]
const consHistCounts = [
  158, 22, 22, 17, 18, 32, 42, 27, 38, 50, 46, 57, 64, 46, 67, 70, 71, 84, 105, 92,
  95, 110, 111, 110, 126, 110, 142, 158, 142, 130, 173, 151, 206, 212, 174, 189, 207, 226, 210, 221,
  212, 220, 248, 220, 227, 246, 233, 237, 231, 257, 226, 224, 213, 238, 225, 238, 214, 240, 174, 203,
  221, 175, 212, 195, 178, 195, 168, 174, 168, 156, 136, 116, 129, 116, 149, 116, 130, 119, 112, 99,
  62, 88, 62, 71, 55, 55, 72, 52, 52, 50, 46, 33, 33, 25, 32, 14, 13, 18, 14, 137
]

const font = 'DejaVu Sans'
const tickFont = 13.9

const indexed = arr => arr.map((v, i) => [i, v])
const minus = s => s.replace('-', '\u2212')

// outline of a histogram so the fill has no seams between bins
function histOutline (range, counts) {
  const [lo, hi] = range
  const w = (hi - lo) / counts.length
  const pts = [[lo, 0]]
  counts.forEach((c, i) => {
    pts.push([lo + i * w, c])
    pts.push([lo + (i + 1) * w, c])
  })
  pts.push([hi, 0])
  return pts
}

function axis (gridIndex, min, max, ticks, fmt, extra) {
  return Object.assign({
    type: 'value',
    gridIndex,
    min,
    max,
    axisLine: { show: false, onZero: false },
    axisTick: { show: true, inside: false, length: 5, customValues: ticks, lineStyle: { color: '#000', width: 1 } },
    axisLabel: { customValues: ticks, formatter: fmt, color: '#000', fontFamily: font, fontSize: tickFont, margin: 9 },
    splitLine: { show: true, lineStyle: { color: '#b0b0b0', width: 1 } },
    nameTextStyle: { color: '#000', fontFamily: font, fontSize: tickFont },
    nameLocation: 'middle',
    nameMoveOverlap: false
  }, extra || {})
}

const gridBox = top => ({ left: 95, top, width: 1390, height: 261, show: true, borderColor: '#000', borderWidth: 1, backgroundColor: 'transparent' })
const titleText = (text, top) => ({ text, left: 785, top, textAlign: 'center', textStyle: { fontFamily: font, fontSize: 16.7, fontWeight: 'normal', color: '#000' } })
const legendBase = {
  orient: 'vertical',
  itemWidth: 28,
  itemHeight: 10,
  itemGap: 7,
  padding: [5, 7, 5, 6],
  backgroundColor: 'rgba(255,255,255,0.8)',
  borderColor: '#cccccc',
  borderWidth: 1,
  borderRadius: 3,
  selectedMode: false,
  itemStyle: { opacity: 0 }, // line entries: no marker, just the stroke
  textStyle: { fontFamily: font, fontSize: tickFont, color: '#000', padding: [0, 0, 0, 5] }
}
const line = (name, xi, data, color) => ({
  name, type: 'line', xAxisIndex: xi, yAxisIndex: xi, data, symbol: 'none', silent: true,
  itemStyle: { color }, lineStyle: { color, width: 2, join: 'round' }
})
const dash = [7.7, 3.3]

const chart = echarts.init(document.getElementById('chart'))
chart.setOption({
  animation: false,
  backgroundColor: '#fff',
  title: [
    titleText('OFDM Time Domain - Original vs Constrained', 9),
    titleText(`Power Comparison - Original PAPR: ${originalPAPR.toFixed(2)} dB, Constrained PAPR: ${constrainedPAPR.toFixed(2)} dB`, 331),
    titleText('Amplitude Distribution Comparison', 653)
  ],
  legend: [
    Object.assign({}, legendBase, { left: 719, top: 44, data: ['Original I', 'Constrained I'] }),
    Object.assign({}, legendBase, { right: 22, top: 366, data: ['Original Power', 'Constrained Power', 'Mean: 0.00'] }),
    Object.assign({}, legendBase, {
      right: 22,
      top: 688,
      formatter: name => name.replace(' (hist)', ''),
      data: [
        { name: 'Original I (hist)', icon: 'rect', itemStyle: { color: 'rgba(31,119,180,0.4)', opacity: 1, borderWidth: 0 } },
        { name: 'Constrained I (hist)', icon: 'rect', itemStyle: { color: 'rgba(255,127,14,0.4)', opacity: 1, borderWidth: 0 } },
        'Max Amplitude: 0.02'
      ]
    })
  ],
  grid: [gridBox(37), gridBox(359), gridBox(681)],
  xAxis: [
    axis(0, -49.95, 1048.95, timeTicks, v => String(v)),
    axis(1, -49.95, 1048.95, timeTicks, v => String(v)),
    axis(2, -0.1212, 0.1226, histTicks, v => minus(v.toFixed(2)), {
      name: 'Amplitude', nameGap: 28, z: 3,
      axisLine: { show: true, onZero: false, lineStyle: { color: '#000', width: 1 } }
    })
  ],
  yAxis: [
    axis(0, -0.0915, 0.0915, ampTicks, v => minus(v.toFixed(3)), { name: 'Amplitude', nameGap: 66 }),
    axis(1, -0.00068, 0.0143, powerTicks, v => v.toFixed(3), { name: 'Power', nameGap: 54 }),
    axis(2, 0, 421, countTicks, v => String(v), { name: 'Count', nameGap: 42, z: 3 })
  ],
  series: [
    line('Original I', 0, indexed(originalI), 'rgba(0,0,255,0.5)'),
    line('Constrained I', 0, indexed(constrainedI), '#008000'),
    line('Original Power', 1, indexed(originalPower), 'rgba(255,0,0,0.5)'),
    line('Constrained Power', 1, indexed(constrainedPower), '#008000'),
    {
      name: 'Mean: 0.00', type: 'line', xAxisIndex: 1, yAxisIndex: 1, data: [], symbol: 'none',
      itemStyle: { color: '#000' }, lineStyle: { color: '#000', width: 2, type: dash },
      markLine: {
        silent: true, symbol: ['none', 'none'], label: { show: false },
        lineStyle: { color: '#000', width: 2, type: dash },
        data: [{ yAxis: meanPower }]
      }
    },
    {
      name: 'Original I (hist)', type: 'line', xAxisIndex: 2, yAxisIndex: 2, symbol: 'none', silent: true,
      data: histOutline(origHistRange, origHistCounts),
      itemStyle: { color: 'rgb(31,119,180)' }, lineStyle: { width: 0 },
      areaStyle: { color: 'rgb(31,119,180)', opacity: 0.4 }
    },
    {
      name: 'Constrained I (hist)', type: 'line', xAxisIndex: 2, yAxisIndex: 2, symbol: 'none', silent: true,
      data: histOutline(consHistRange, consHistCounts),
      itemStyle: { color: 'rgb(255,127,14)' }, lineStyle: { width: 0 },
      areaStyle: { color: 'rgb(255,127,14)', opacity: 0.4 }
    },
    {
      name: 'Max Amplitude: 0.02', type: 'line', xAxisIndex: 2, yAxisIndex: 2, data: [], symbol: 'none',
      itemStyle: { color: '#ff0000' }, lineStyle: { color: '#ff0000', width: 2, type: dash },
      markLine: {
        silent: true, symbol: ['none', 'none'], label: { show: false },
        lineStyle: { color: '#ff0000', width: 2, type: dash },
        data: [{ xAxis: maxAmplitude }]
      }
    }
  ]
})
</script>
</body>
</html>
